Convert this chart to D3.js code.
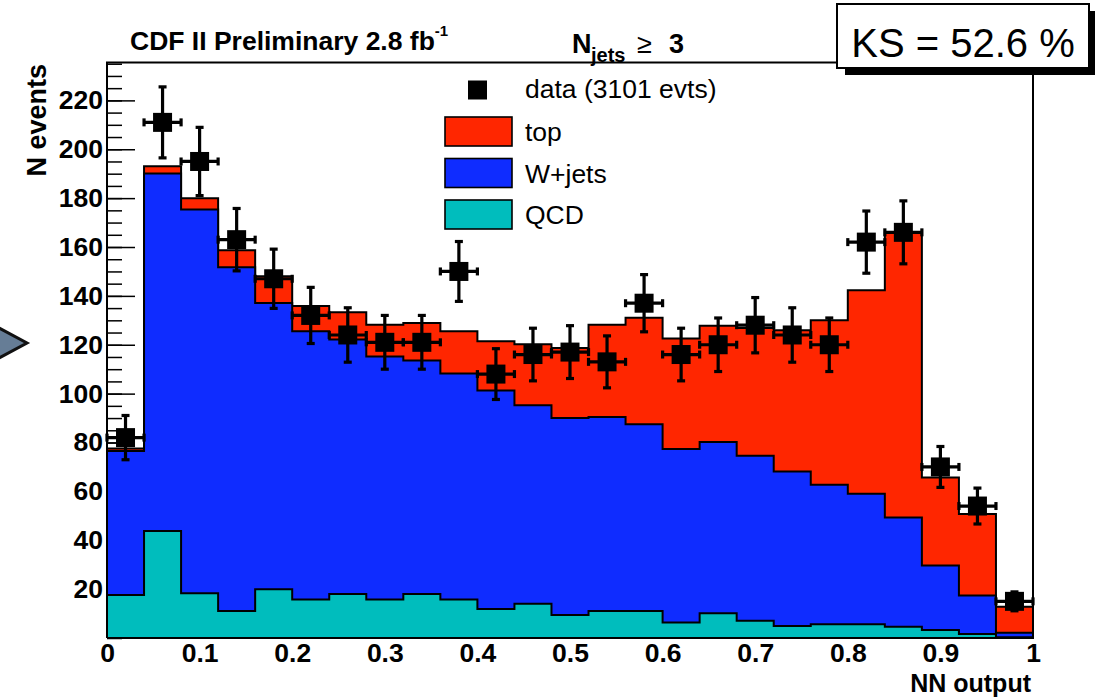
<!DOCTYPE html>
<html>
<head>
<meta charset="utf-8">
<script src="https://cdn.jsdelivr.net/npm/d3@7"></script>
<style>
  body { margin: 0; background: #fff; }
  svg { display: block; font-family: "Liberation Sans", Arial, Helvetica, sans-serif; }
</style>
</head>
<body>
<div id="chart"></div>
<script>
const width = 1095,
  height = 699,
  margin = ({ top: 62.5, right: 62, bottom: 61, left: 107 });

// NN output bins (centres), width 0.04
const binCenters = [0.02, 0.06, 0.10, 0.14, 0.18, 0.22, 0.26, 0.30, 0.34, 0.38, 0.42, 0.46, 0.50,
  0.54, 0.58, 0.62, 0.66, 0.70, 0.74, 0.78, 0.82, 0.86, 0.90, 0.94, 0.98];
const binWidth = 0.04;

const dataCounts = [82, 211, 195, 163, 147, 132, 124, 121, 121, 150, 108, 116, 117,
  113, 137, 116, 120, 128, 124, 120, 162, 166, 70, 54, 15];
const qcd = [17.6, 43.8, 18.3, 11.1, 19.9, 15.8, 18.0, 15.8, 18.0, 15.8, 11.9, 14.0, 9.4,
  11.1, 11.1, 6.3, 10.1, 7.1, 4.9, 5.6, 5.6, 4.6, 3.3, 1.6, 0.3];
const wjets = [58.9, 146.3, 157.0, 140.6, 117.2, 109.7, 104.1, 99.4, 95.6, 92.4, 89.4, 81.2, 80.6,
  79.3, 76.4, 71.0, 70.1, 67.5, 63.2, 57.1, 53.4, 44.7, 26.4, 15.8, 1.8];
const top_ = [1.0, 2.9, 4.7, 7.0, 10.9, 10.4, 11.2, 13.0, 15.3, 17.3, 20.1, 25.0, 28.7,
  37.8, 43.5, 45.3, 47.6, 52.3, 57.8, 67.3, 83.3, 116.5, 36.0, 33.3, 10.7];

const yMajorTicks = [20, 40, 60, 80, 100, 120, 140, 160, 180, 200, 220];
const xTicks = [0, 0.1, 0.2, 0.3, 0.4, 0.5, 0.6, 0.7, 0.8, 0.9, 1];
const nEventsLabel = "data (3101 evts)";

const legendItems = [
  { label: "top", color: "#ff2600" },
  { label: "W+jets", color: "#0f2cff" },
  { label: "QCD", color: "#00bdbd" }
];

const svg = d3.select("#chart")
  .append("svg")
  .attr("width", width)
  .attr("height", height)
  .attr("viewBox", [0, 0, width, height]);

let x = d3.scaleLinear()
  .domain([0, 1])
  .range([margin.left, width - margin.right]);

let y = d3.scaleLinear()
  .domain([0, 235.5])
  .range([height - margin.bottom, margin.top]);

// decorative slide arrow on the left
svg.append("polygon")
  .attr("points", "-12,322 27,343 -12,364")
  .attr("fill", "#667d96")
  .attr("stroke", "#111")
  .attr("stroke-width", 3);

// y axis: minor ticks then major ticks (drawn before histograms, so they get covered)
svg.append("g")
  .attr("transform", `translate(${margin.left},0)`)
  .call(d3.axisLeft(y)
    .tickValues(d3.range(0, 236, 5))
    .tickSize(-15)
    .tickFormat(""))
  .call(g => g.select(".domain").remove())
  .call(g => g.selectAll("line").attr("stroke-width", 1.5));

svg.append("g")
  .attr("transform", `translate(${margin.left},0)`)
  .call(d3.axisLeft(y)
    .tickValues(yMajorTicks)
    .tickSize(-28)
    .tickPadding(4)
    .tickFormat(d => d))
  .attr("font-size", 26.5)
  .attr("font-weight", "bold")
  .attr("font-family", "'Liberation Sans', Arial, sans-serif")
  .call(g => g.select(".domain").remove())
  .call(g => g.selectAll("line").attr("stroke-width", 1.5))
  .call(g => g.selectAll("text").attr("fill", "#000"));

// x axis labels
svg.append("g")
  .attr("transform", `translate(0,${height - margin.bottom})`)
  .call(d3.axisBottom(x)
    .tickValues(xTicks)
    .tickSize(0)
    .tickPadding(5)
    .tickFormat(d => (d === 0 || d === 1) ? d : d3.format(".1f")(d)))
  .attr("font-size", 26.5)
  .attr("font-weight", "bold")
  .attr("font-family", "'Liberation Sans', Arial, sans-serif")
  .call(g => g.select(".domain").remove())
  .call(g => g.selectAll("text").attr("fill", "#000"));

// stacked histograms: cumulative sums
const cumQcd = qcd.slice();
const cumW = qcd.map((d, i) => d + wjets[i]);
const cumTop = cumW.map((d, i) => d + top_[i]);

const step = d3.line()
  .x(d => x(d[0]))
  .y(d => y(d[1]))
  .curve(d3.curveStepAfter);

function histPoints(vals) {
  let pts = [[0, 0]];
  vals.forEach((v, i) => pts.push([binCenters[i] - binWidth / 2, v]));
  let last = vals.length - 1;
  pts.push([binCenters[last] + binWidth / 2, vals[last]]);
  pts.push([binCenters[last] + binWidth / 2, 0]);
  return pts;
}

const stacks = [
  { vals: cumTop, color: legendItems[0].color },
  { vals: cumW, color: legendItems[1].color },
  { vals: cumQcd, color: legendItems[2].color }
];

for (let s of stacks) {
  svg.append("path")
    .datum(histPoints(s.vals))
    .attr("fill", s.color)
    .attr("stroke", "#000")
    .attr("stroke-width", 2)
    .attr("d", step);
}

// frame
svg.append("path")
  .attr("fill", "none")
  .attr("stroke", "#000")
  .attr("stroke-width", 2)
  .attr("d", `M${x(0)},${y(0)}H${x(1)}V${y.range()[1]}H${x(0)}V${y(0)}`);

// data points with error bars
const dataG = svg.append("g").attr("class", "data");
dataCounts.forEach((n, i) => {
  let cx = x(binCenters[i]),
    cy = y(n),
    err = Math.sqrt(n),
    x0 = x(binCenters[i] - binWidth / 2),
    x1 = x(binCenters[i] + binWidth / 2),
    yHi = y(n + err),
    yLo = y(n - err);
  let g = dataG.append("g")
    .attr("stroke", "#000")
    .attr("stroke-width", 3.2);
  g.append("line").attr("x1", cx).attr("x2", cx).attr("y1", yHi).attr("y2", yLo);
  g.append("line").attr("x1", x0).attr("x2", x1).attr("y1", cy).attr("y2", cy);
  g.append("line").attr("x1", cx - 4).attr("x2", cx + 4).attr("y1", yHi).attr("y2", yHi);
  g.append("line").attr("x1", cx - 4).attr("x2", cx + 4).attr("y1", yLo).attr("y2", yLo);
  g.append("line").attr("x1", x0).attr("x2", x0).attr("y1", cy - 4).attr("y2", cy + 4);
  g.append("line").attr("x1", x1).attr("x2", x1).attr("y1", cy - 4).attr("y2", cy + 4);
  dataG.append("rect")
    .attr("x", cx - 9.5)
    .attr("y", cy - 9.5)
    .attr("width", 19)
    .attr("height", 19)
    .attr("fill", "#000");
});

// legend
const legend = svg.append("g").attr("class", "legend");
legend.append("rect")
  .attr("x", 468).attr("y", 80.5).attr("width", 19).attr("height", 19)
  .attr("fill", "#000");
legend.append("text")
  .attr("x", 525).attr("y", 98)
  .attr("font-size", 26.5)
  .text(nEventsLabel);

legendItems.forEach((d, i) => {
  let cy = 131.5 + i * 41.5;
  legend.append("rect")
    .attr("x", 445).attr("y", cy - 14.5)
    .attr("width", 67).attr("height", 29)
    .attr("fill", d.color)
    .attr("stroke", "#000")
    .attr("stroke-width", 1.6);
  legend.append("text")
    .attr("x", 525).attr("y", cy + 9.5)
    .attr("font-size", 26.5)
    .text(d.label);
});

// titles
const title = svg.append("text")
  .attr("x", 130).attr("y", 49.5)
  .attr("font-size", 26.5)
  .attr("font-weight", "bold");
title.append("tspan").text("CDF II Preliminary 2.8 fb");
title.append("tspan").attr("font-size", 15).attr("dy", -14).text("-1");

const njets = svg.append("text")
  .attr("y", 53.3)
  .attr("font-weight", "bold")
  .attr("font-size", 27);
njets.append("tspan").attr("x", 572).text("N");
njets.append("tspan").attr("x", 591).attr("dy", 8.5).attr("font-size", 20).text("jets");
njets.append("tspan").attr("x", 637).attr("dy", -8.5).attr("font-weight", "normal").text("≥");
njets.append("tspan").attr("x", 669).text("3");

svg.append("text")
  .attr("transform", "translate(46,64) rotate(-90)")
  .attr("text-anchor", "end")
  .attr("font-size", 27)
  .attr("font-weight", "bold")
  .text("N events");

svg.append("text")
  .attr("x", 1031).attr("y", 692)
  .attr("text-anchor", "end")
  .attr("font-size", 25)
  .attr("font-weight", "bold")
  .text("NN output");

// KS box with shadow
svg.append("rect")
  .attr("x", 845).attr("y", 11).attr("width", 252).attr("height", 64)
  .attr("fill", "#000");
svg.append("rect")
  .attr("x", 837).attr("y", 4).attr("width", 252).attr("height", 64)
  .attr("fill", "#fff")
  .attr("stroke", "#000")
  .attr("stroke-width", 2);
svg.append("text")
  .attr("x", 963).attr("y", 57)
  .attr("text-anchor", "middle")
  .attr("font-size", 40)
  .text("KS = 52.6 %");
</script>
</body>
</html>
